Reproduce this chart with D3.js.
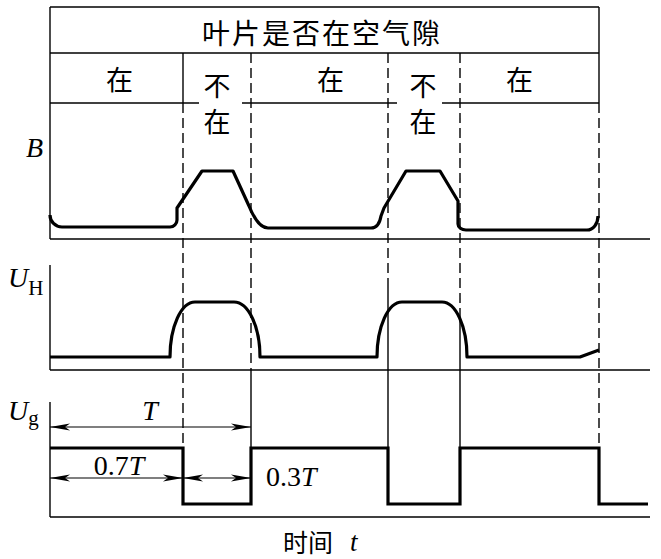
<!DOCTYPE html>
<html><head><meta charset="utf-8">
<script src="https://cdn.jsdelivr.net/npm/d3@7"></script>
<style>body{margin:0;background:#fff}</style>
</head><body>
<svg id="c" width="661" height="559"></svg>
<script>
// ---------------- data ----------------
const headerTitle = "叶片是否在空气隙";
const bladeStates = ["在", "不在", "在", "不在", "在"];
const edgeTimes = [133, 201, 338, 410, 549];       // state boundaries (time units)
const timeDomain = [0, 600];
// waveform commands: [cmd, t, v] ; Q: [Q, tc, vc, t, v] ; A: [A, t, v, sweep]
const bWave = [
  ["M", 0, 24], ["A", 12, 12, 0], ["L", 120, 12], ["A", 127, 19, 0], ["L", 127, 31],
  ["L", 152, 68], ["L", 183, 68], ["L", 199, 33], ["Q", 208, 11, 218, 11],
  ["L", 321, 11], ["Q", 329, 11, 331, 23], ["L", 334, 31], ["L", 356, 68],
  ["L", 390, 68], ["L", 408, 38], ["L", 408, 15], ["A", 416, 9, 0],
  ["L", 537, 9], ["A", 548, 23, 0]
];
const uhWave = [
  ["M", 0, 13], ["L", 120, 13], ["A", 145, 68, 1], ["L", 184, 68], ["A", 210, 13, 1],
  ["L", 327, 13], ["A", 352, 68, 1], ["L", 392, 68], ["A", 417, 13, 1],
  ["L", 530, 13], ["L", 549, 20]
];
const ugTimes  = [0, 133, 133, 201, 201, 338, 338, 410, 410, 549, 549, 598];
const ugValues = [69, 69, 13, 13, 69, 69, 13, 13, 69, 69, 13, 13];
const dimLabels = ["T", "0.7T", "0.3T"];
const panelLabels = [["B", ""], ["U", "H"], ["U", "g"]];
const xAxisLabel = "时间";
const xAxisVar = "t";

// ---------------- layout ----------------
const svg = d3.select("#c");
const x = d3.scaleLinear().domain(timeDomain).range([50, 650]);
const yB  = d3.scaleLinear().domain([0, 100]).range([239, 139]);
const yUH = d3.scaleLinear().domain([0, 100]).range([370, 270]);
const yUg = d3.scaleLinear().domain([0, 100]).range([517, 417]);
const serif = "'Liberation Serif','Times New Roman',serif";
const cjk = "'Noto Sans CJK SC','Noto Sans CJK JP',sans-serif";
const tableTop = 7, titleLine = 53, rowLine = 103;
const xL = x(0), xR = x(edgeTimes[4]);

function wavePath(cmds, y) {
  let d = "", px = 0, py = 0;
  cmds.forEach(c => {
    if (c[0] === "M" || c[0] === "L") {
      px = x(c[1]); py = y(c[2]); d += c[0] + px + "," + py;
    } else if (c[0] === "Q") {
      const nx = x(c[3]), ny = y(c[4]);
      d += "Q" + x(c[1]) + "," + y(c[2]) + " " + nx + "," + ny; px = nx; py = ny;
    } else if (c[0] === "A") {
      const nx = x(c[1]), ny = y(c[2]);
      d += "A" + Math.abs(nx - px) + "," + Math.abs(ny - py) + " 0 0 " + c[3] + " " + nx + "," + ny;
      px = nx; py = ny;
    }
  });
  return d;
}

const thin = 1.4;
function line(x1, y1, x2, y2, dash) {
  svg.append("line").attr("x1", x1).attr("y1", y1).attr("x2", x2).attr("y2", y2)
    .attr("stroke", "#000").attr("stroke-width", thin)
    .attr("stroke-dasharray", dash ? "10,5" : null);
}

// table
line(xL, tableTop, xR, tableTop);
line(xL, titleLine, xR, titleLine);
line(xR, tableTop, xR, rowLine);
line(xL, tableTop, xL, yB(0));
// row line with gaps around stacked "不在" labels
const gapHalf = [16, 23];
[[xL, x(edgeTimes[0]) + gapHalf[0]],
 [x(edgeTimes[1]) - 9, x(edgeTimes[2]) + 9],
 [x(edgeTimes[3]) - 18, xR]].forEach(s => line(s[0], rowLine, s[1], rowLine));

// boundary lines: dashed part, then solid part down to the Ug high level
const ugHigh = yUg(69);
const solidStart = [null, 370, 288, 310, null];
edgeTimes.forEach((t, i) => {
  const xx = x(t);
  if (i === 0) line(xx, titleLine, xx, rowLine);
  const dStart = (i === 0 || i === 4) ? rowLine : titleLine;
  const sFrom = solidStart[i] == null ? ugHigh : solidStart[i];
  line(xx, dStart, xx, sFrom, true);
  if (sFrom < ugHigh) line(xx, sFrom, xx, ugHigh);
});

// axes
[yB, yUH, yUg].forEach(s => line(xL, s(0), x(timeDomain[1]), s(0)));
line(xL, yUH(0), xL, yUH(105));
line(xL, yUg(0), xL, yUg(115));

// header texts
svg.append("text").attr("x", 322).attr("y", 32).attr("text-anchor", "middle")
  .attr("dominant-baseline", "central").attr("font-family", cjk).attr("font-size", 28)
  .attr("letter-spacing", 2).text(headerTitle);
const cells = [0].concat(edgeTimes);
const nudge = [3, 0, 11, -1, -10];
bladeStates.forEach((s, i) => {
  const cx = (x(cells[i]) + x(cells[i + 1])) / 2 + nudge[i];
  const chars = s.split("");
  if (chars.length === 1) {
    svg.append("text").attr("x", cx).attr("y", 78).attr("text-anchor", "middle")
      .attr("dominant-baseline", "central").attr("font-family", cjk).attr("font-size", 27).text(s);
  } else {
    chars.forEach((ch, j) => svg.append("text").attr("x", cx).attr("y", 84 + j * 36)
      .attr("text-anchor", "middle").attr("dominant-baseline", "central")
      .attr("font-family", cjk).attr("font-size", 27).text(ch));
  }
});

// waveforms
const wave = { fill: "none", stroke: "#000", "stroke-width": 3.2, "stroke-linejoin": "round" };
function styled(sel) { Object.entries(wave).forEach(([k, v]) => sel.attr(k, v)); return sel; }
styled(svg.append("path").attr("d", wavePath(bWave, yB)));
styled(svg.append("path").attr("d", wavePath(uhWave, yUH)));
styled(svg.append("path").attr("d", d3.line().x(d => x(d[0])).y(d => yUg(d[1]))(ugTimes.map((t, i) => [t, ugValues[i]]))))
  .attr("stroke-linejoin", "miter");

// panel labels
const labelBase = [157, 287, 420];
panelLabels.forEach((l, i) => {
  const t = svg.append("text").attr("x", i === 0 ? 26 : 8).attr("y", labelBase[i])
    .attr("font-family", serif).attr("font-size", 28);
  t.append("tspan").attr("font-style", "italic").text(l[0]);
  if (l[1]) t.append("tspan").attr("dy", l[1] === "g" ? 5 : 8).attr("font-size", 21).text(l[1]);
});

// dimension arrows
function arrowHead(xt, yt, dir) {
  const L = 20, w = 3.6, n = 5;
  const p = [[xt, yt], [xt - dir * L, yt - w], [xt - dir * (L - n), yt], [xt - dir * L, yt + w]];
  svg.append("path").attr("d", "M" + p.join("L") + "Z").attr("fill", "#000");
}
function dim(t1, t2, v) {
  const yy = yUg(v);
  svg.append("line").attr("x1", x(t1)).attr("x2", x(t2)).attr("y1", yy).attr("y2", yy)
    .attr("stroke", "#000").attr("stroke-width", 1.1);
  arrowHead(x(t1), yy, -1); arrowHead(x(t2), yy, 1);
}
dim(0, edgeTimes[1], 90);
dim(0, edgeTimes[0], 39);
dim(edgeTimes[0], edgeTimes[1], 39);

function dimText(str, xx, yy, anchor) {
  const t = svg.append("text").attr("x", xx).attr("y", yy).attr("text-anchor", anchor)
    .attr("font-family", serif).attr("font-size", 28);
  const num = str.slice(0, -1);
  if (num) t.append("tspan").text(num);
  t.append("tspan").attr("font-style", "italic").text(str.slice(-1));
}
dimText(dimLabels[0], 150, 420, "middle");
dimText(dimLabels[1], 119, 475, "middle");
dimText(dimLabels[2], 266, 486, "start");

// x-axis title
svg.append("text").attr("x", 308).attr("y", 541).attr("text-anchor", "middle")
  .attr("dominant-baseline", "central").attr("font-family", cjk).attr("font-size", 25).text(xAxisLabel);
svg.append("text").attr("x", 350).attr("y", 551).attr("font-family", serif)
  .attr("font-style", "italic").attr("font-size", 27).text(xAxisVar);
</script>
</body></html>
